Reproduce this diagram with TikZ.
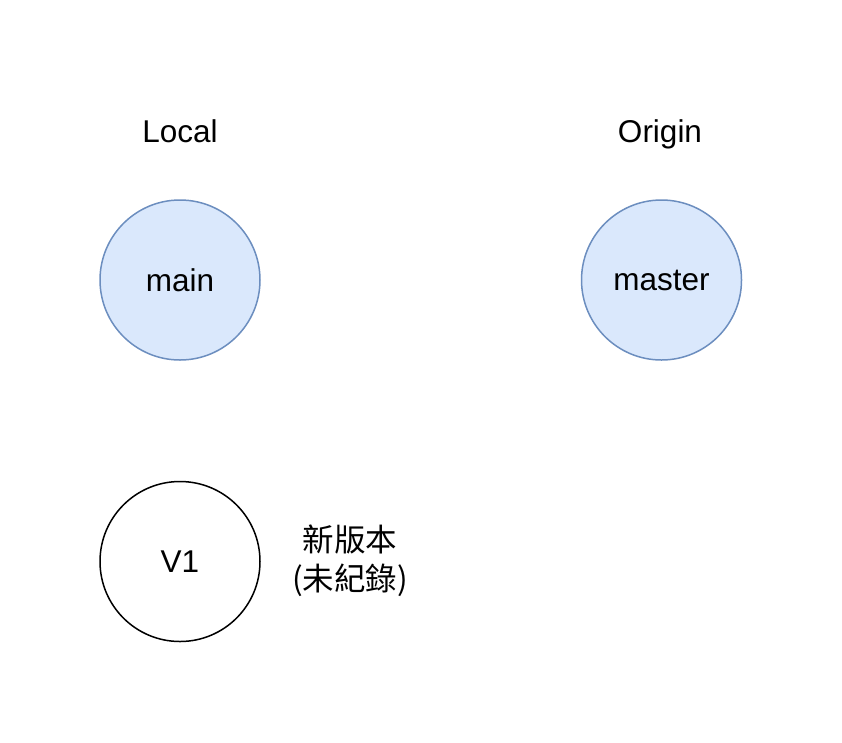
\documentclass[tikz,border=0pt]{standalone}
\usepackage{fontspec}
\setmainfont{Liberation Sans}
\newfontfamily\cjk{Noto Sans CJK TC}
\usetikzlibrary{positioning}
\definecolor{branchfill}{HTML}{DAE8FC}
\definecolor{branchline}{HTML}{6C8EBF}

\begin{document}
\begin{tikzpicture}[x=1pt,y=-1pt,node distance=120pt,
  branch/.style={circle,draw=branchline,fill=branchfill,line width=1.5pt,minimum size=160pt,inner sep=0pt,font=\fontsize{31.5}{38}\selectfont},
  commit/.style={circle,draw=black,fill=white,line width=1.5pt,minimum size=160pt,inner sep=0pt,font=\fontsize{31.5}{38}\selectfont},
  title/.style={anchor=base,font=\fontsize{31.5}{38}\selectfont}]
  \useasboundingbox (0,0) rectangle (842,742);
  \node[branch] (main) at (180,280) {main};
  \node[branch,right=320pt of main] (master) {master};
  \node[commit,below=120pt of main] (v1) {V1};
  \node[title] (local) at (180,142) {Local};
  \node[title] (origin) at (660,142) {Origin};
  \node[align=center,font=\cjk\fontsize{31.5}{39}\selectfont] (note) at (350,561) {新版本\\(未紀錄)};
\end{tikzpicture}
\end{document}
